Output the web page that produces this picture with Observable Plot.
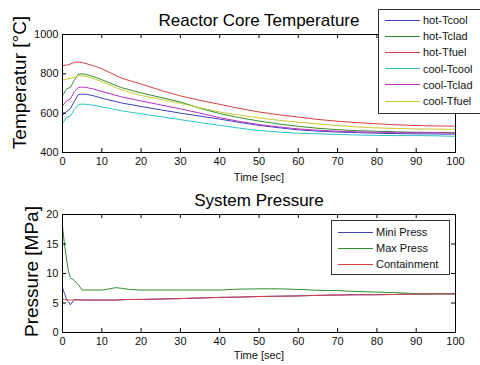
<!DOCTYPE html>
<html>
<head>
<meta charset="utf-8">
<script src="https://cdn.jsdelivr.net/npm/d3@7"></script>
<script src="https://cdn.jsdelivr.net/npm/@observablehq/plot@0.6"></script>
<style>
  body { margin: 0; background: #fff; font-family: "Liberation Sans", Arial, sans-serif; }
  #fig { position: relative; width: 480px; height: 365px; overflow: hidden; background: #fff; }
  .panel { position: absolute; left: 0; }
  .panel svg { overflow: visible; }
  .legend { position: absolute; box-sizing: border-box; background: #fff; border: 1px solid #333;
            font-size: 11px; color: #111; }
  .legend .row { position: absolute; height: 16px; display: flex; align-items: center; white-space: nowrap; }
  .legend .swatch { display: inline-block; width: 35px; height: 0; border-top: 1px solid; margin-right: 3px; }
</style>
</head>
<body>
<div id="fig">
  <div class="panel" id="top" style="top:0"></div>
  <div class="panel" id="bottom" style="top:186px"></div>
</div>
<script>
// ---- Reactor core temperature (°C) versus time (s) ----
const coreTime = [0, 1, 2, 3, 4, 5, 6, 8, 10, 15, 20, 25, 30, 35, 40, 45, 50, 55, 60, 65, 70, 75, 80, 85, 90, 95, 100];
const hotTcool  = [590, 608, 622, 660, 694, 697, 696, 688, 676, 652, 634, 617, 600, 585, 570, 553, 538, 526, 515, 509, 504, 501, 498, 496, 495, 494, 493];
const hotTclad  = [688, 722, 732, 768, 798, 800, 797, 785, 770, 730, 703, 680, 657, 625, 598, 577, 560, 545, 533, 523, 516, 511, 508, 505, 503, 502, 501];
const hotTfuel  = [842, 844, 850, 858, 860, 857, 852, 840, 826, 778, 748, 716, 688, 665, 645, 624, 606, 592, 580, 568, 559, 552, 546, 541, 537, 535, 534];
const coolTcool = [548, 578, 585, 618, 644, 646, 645, 640, 632, 612, 597, 582, 567, 552, 538, 524, 512, 504, 498, 495, 492, 489, 487, 486, 486, 485, 482];
const coolTclad = [638, 662, 672, 710, 730, 733, 731, 722, 710, 683, 662, 642, 622, 600, 577, 558, 542, 530, 520, 513, 508, 505, 503, 501, 500, 500, 500];
const coolTfuel = [768, 772, 778, 782, 790, 790, 787, 775, 760, 718, 690, 670, 650, 627, 606, 590, 576, 564, 554, 545, 537, 530, 525, 522, 520, 519, 518];
const coreNames  = ["hot-Tcool", "hot-Tclad", "hot-Tfuel", "cool-Tcool", "cool-Tclad", "cool-Tfuel"];
const coreColors = ["#3f3fc0", "#2f8f2f", "#d84040", "#2ec4c4", "#c030c0", "#c8c832"];
const coreSeries = [hotTcool, hotTclad, hotTfuel, coolTcool, coolTclad, coolTfuel];

// ---- System pressure (MPa) versus time (s) ----
const pressTime   = [0, 0.5, 1, 1.5, 2, 3, 3.5, 4, 5, 10, 12, 13.5, 15, 17, 20, 30, 40, 45, 50, 55, 60, 65, 70, 75, 80, 85, 88, 90, 95, 100];
const miniPress   = [7.6, 6.6, 5.7, 5.2, 4.7, 5.6, 5.6, 5.55, 5.5, 5.5, 5.5, 5.5, 5.55, 5.6, 5.6, 5.75, 5.95, 6.0, 6.1, 6.15, 6.2, 6.3, 6.35, 6.4, 6.4, 6.45, 6.5, 6.5, 6.55, 6.55];
const maxPress    = [18.0, 15.0, 12.6, 10.4, 9.3, 8.8, 8.5, 8.1, 7.2, 7.2, 7.4, 7.6, 7.5, 7.3, 7.2, 7.2, 7.2, 7.35, 7.4, 7.4, 7.3, 7.15, 7.1, 6.95, 6.85, 6.75, 6.65, 6.55, 6.55, 6.55];
const containment = [5.6, 5.6, 5.55, 5.55, 5.5, 5.5, 5.5, 5.5, 5.5, 5.5, 5.5, 5.5, 5.55, 5.6, 5.6, 5.75, 5.95, 6.0, 6.1, 6.15, 6.2, 6.3, 6.35, 6.4, 6.4, 6.45, 6.5, 6.5, 6.55, 6.55];
const pressNames  = ["Mini Press", "Max Press", "Containment"];
const pressColors = ["#3f3fc0", "#2f8f2f", "#d84040"];
const pressSeries = [miniPress, maxPress, containment];

const xTicks = [0, 10, 20, 30, 40, 50, 60, 70, 80, 90, 100];
const tempTicks = [400, 600, 800, 1000];
const pressTicks = [0, 5, 10, 15, 20];

const W = 480, ML = 62, MR = 25, PH = 118;
const PW = W - ML - MR;

function panel({height, marginTop, marginBottom, time, series, colors, yDomain, yTicks,
                title, yLabel, yLabelX, yLabelDy, yLabelSize, xLabelDy}) {
  const lines = series.map((vals, k) =>
    Plot.line(time.map((t, i) => ({t, v: vals[i]})), {x: "t", y: "v", stroke: colors[k], strokeWidth: 1})
  );
  return Plot.plot({
    width: W, height, marginLeft: ML, marginRight: MR, marginTop, marginBottom,
    style: {fontFamily: '"Liberation Sans", Arial, sans-serif', fontSize: "11px", color: "#111", background: "transparent"},
    x: {domain: [0, 100]},
    y: {domain: yDomain},
    marks: [
      ...lines,
      Plot.frame({stroke: "#000", strokeWidth: 1}),
      // inward ticks on all four sides
      Plot.tickX(xTicks, {x: d => d, insetTop: PH - 4, stroke: "#000"}),
      Plot.tickX(xTicks, {x: d => d, insetBottom: PH - 4, stroke: "#000"}),
      Plot.tickY(yTicks, {y: d => d, insetRight: PW - 4, stroke: "#000"}),
      Plot.tickY(yTicks, {y: d => d, insetLeft: PW - 4, stroke: "#000"}),
      Plot.axisX({ticks: xTicks, tickSize: 0, tickPadding: 5, label: null, tickFormat: d => String(d)}),
      Plot.axisY({ticks: yTicks, tickSize: 0, tickPadding: 4, label: null, tickFormat: d => String(d)}),
      Plot.text([title], {frameAnchor: "top", dy: -9, lineAnchor: "bottom", fontSize: 17, fill: "#000"}),
      Plot.text(["Time [sec]"], {frameAnchor: "bottom", dy: xLabelDy, lineAnchor: "middle", fontSize: 11, fill: "#111"}),
      Plot.text([yLabel], {frameAnchor: "left", dx: -(ML - yLabelX), dy: yLabelDy, rotate: -90,
                           textAnchor: "middle", lineAnchor: "middle", fontSize: yLabelSize, fill: "#000"})
    ]
  });
}

document.getElementById("top").appendChild(panel({
  height: 186, marginTop: 34, marginBottom: 34, time: coreTime, series: coreSeries, colors: coreColors,
  yDomain: [400, 1000], yTicks: tempTicks, title: "Reactor Core Temperature",
  yLabel: "Temperatur [°C]", yLabelX: 19, yLabelDy: -11, yLabelSize: 19, xLabelDy: 25
}));
document.getElementById("bottom").appendChild(panel({
  height: 179, marginTop: 28, marginBottom: 33, time: pressTime, series: pressSeries, colors: pressColors,
  yDomain: [0, 20], yTicks: pressTicks, title: "System Pressure",
  yLabel: "Pressure [MPa]", yLabelX: 31, yLabelDy: -2, yLabelSize: 19, xLabelDy: 23
}));

// legend boxes
function legend({left, top, width, height, names, colors, firstRow}) {
  const box = document.createElement("div");
  box.className = "legend";
  Object.assign(box.style, {left: left + "px", top: top + "px", width: width + "px", height: height + "px"});
  names.forEach((name, i) => {
    const row = document.createElement("div");
    row.className = "row";
    row.style.left = "6px";
    row.style.top = (firstRow + i * 16.2) + "px";
    const sw = document.createElement("span");
    sw.className = "swatch";
    sw.style.borderTopColor = colors[i];
    row.appendChild(sw);
    row.appendChild(document.createTextNode(name));
    box.appendChild(row);
  });
  document.getElementById("fig").appendChild(box);
}
legend({left: 378, top: 9, width: 110, height: 105, names: coreNames, colors: coreColors, firstRow: 2});
legend({left: 331, top: 220, width: 119, height: 55, names: pressNames, colors: pressColors, firstRow: 3});
</script>
</body>
</html>
